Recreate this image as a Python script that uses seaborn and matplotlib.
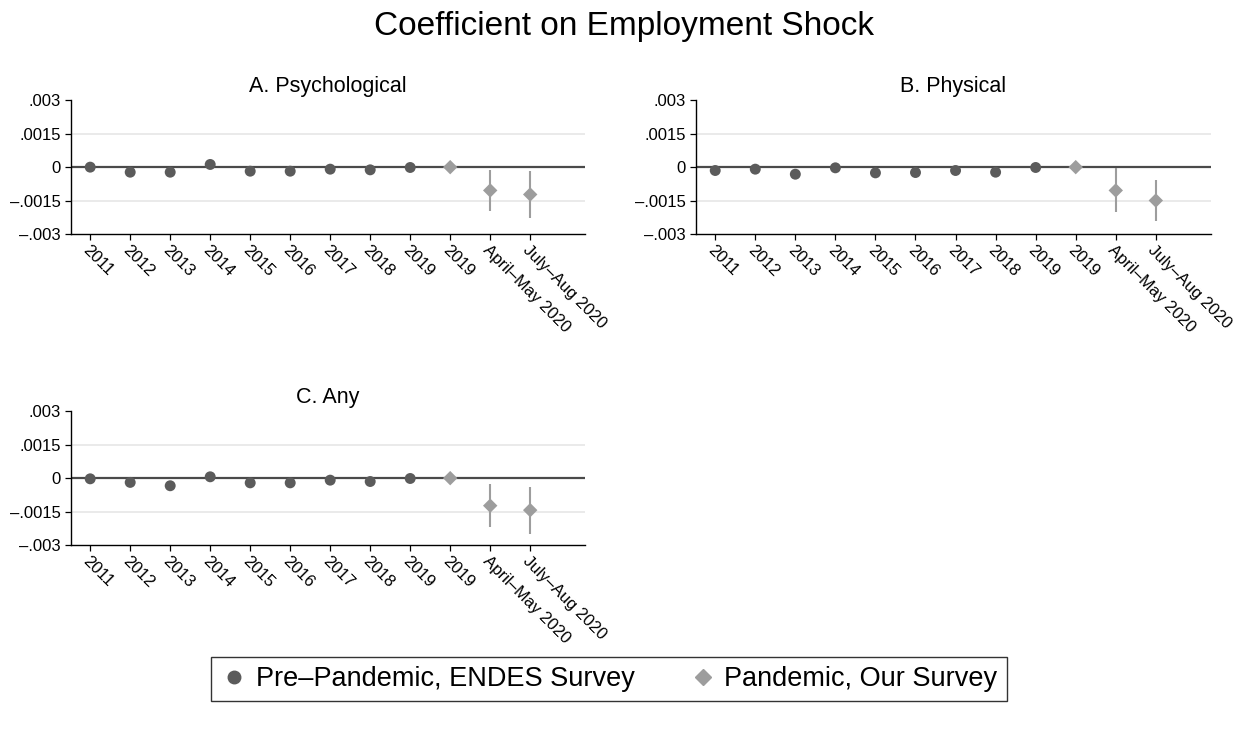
import numpy as np
import pandas as pd
import matplotlib
matplotlib.use("Agg")
import matplotlib.pyplot as plt
import seaborn as sns
from matplotlib.lines import Line2D

# ---------------- data ----------------
periods = ["2011", "2012", "2013", "2014", "2015", "2016", "2017", "2018", "2019",
           "2019", "April–May 2020", "July–Aug 2020"]
groups = ["Pre"] * 9 + ["Pandemic"] * 3

psych_coef = [0.0, -0.000225, -0.000225, 0.00012, -0.00018, -0.00018, -0.00009, -0.00012, -0.000015,
              0.0, -0.00104, -0.00122]
psych_lo = [np.nan] * 10 + [-0.00195, -0.00225]
psych_hi = [np.nan] * 10 + [-0.00012, -0.00018]

phys_coef = [-0.00015, -0.00009, -0.000315, -0.00003, -0.000255, -0.00024, -0.00015, -0.000225, -0.000015,
             0.0, -0.00104, -0.00149]
phys_lo = [np.nan] * 10 + [-0.00200, -0.00240]
phys_hi = [np.nan] * 10 + [-0.00003, -0.00057]

any_coef = [-0.00003, -0.00019, -0.00034, 0.00006, -0.00021, -0.00021, -0.00009, -0.00015, -0.000015,
            0.0, -0.00123, -0.00143]
any_lo = [np.nan] * 10 + [-0.00217, -0.00250]
any_hi = [np.nan] * 10 + [-0.00025, -0.00038]

panel_titles = ["A. Psychological", "B. Physical", "C. Any"]
ytick_vals = [0.003, 0.0015, 0.0, -0.0015, -0.003]
ytick_labels = [".003", ".0015", "0", "–.0015", "–.003"]
legend_labels = ["Pre–Pandemic, ENDES Survey", "Pandemic, Our Survey"]
main_title = "Coefficient on Employment Shock"

# ---------------- style ----------------
sns.set_theme(style="white")
plt.rcParams["font.family"] = ["Liberation Sans", "DejaVu Sans"]
plt.rcParams["text.color"] = "black"
plt.rcParams["xtick.color"] = "black"
plt.rcParams["ytick.color"] = "black"

DARK = "#5b5b5b"
LIGHT = "#9d9d9d"
palette = {"Pre": DARK, "Pandemic": LIGHT}
markers = {"Pre": "o", "Pandemic": "D"}
msizes = {"Pre": 62, "Pandemic": 54}

fig = plt.figure(figsize=(12.47, 7.30), dpi=100)

W, H = 1247.0, 730.0
def rect(l, r, t, b):
    return [l / W, 1 - b / H, (r - l) / W, (b - t) / H]

axes_rects = [rect(71, 585, 100, 234.3), rect(696, 1210.7, 100, 234.3), rect(71, 585, 411, 545.3)]
panels = [(psych_coef, psych_lo, psych_hi), (phys_coef, phys_lo, phys_hi), (any_coef, any_lo, any_hi)]

for (coef, lo, hi), title, r in zip(panels, panel_titles, axes_rects):
    ax = fig.add_axes(r)
    df = pd.DataFrame({"pos": np.arange(len(periods)), "coef": coef, "lo": lo, "hi": hi, "group": groups})
    for yv in (0.0015, -0.0015):
        ax.axhline(yv, color="#e8e8e8", lw=1.3, zorder=1)
    ax.axhline(0, color="#4a4a4a", lw=1.6, zorder=2)
    ci = df.dropna(subset=["lo"])
    ax.vlines(ci["pos"], ci["lo"], ci["hi"], color=LIGHT, lw=1.5, zorder=3)
    sns.scatterplot(data=df, x="pos", y="coef", hue="group", style="group", size="group",
                    palette=palette, markers=markers, sizes=msizes, linewidth=0,
                    legend=False, ax=ax, zorder=4)
    ax.set_xlim(-0.48, 12.37)
    ax.set_ylim(-0.003, 0.003)
    ax.set_xticks(df["pos"])
    ax.set_xticklabels(periods, rotation=-45, ha="left", va="top", rotation_mode="anchor", fontsize=12)
    ax.set_yticks(ytick_vals)
    ax.set_yticklabels(ytick_labels, fontsize=12)
    ax.set_xlabel("")
    ax.set_ylabel("")
    ax.tick_params(axis="both", direction="out", length=4.3, width=0.9, color="black", pad=3,
                   bottom=True, left=True)
    ax.tick_params(axis="x", pad=1.5)
    for s in ("top", "right"):
        ax.spines[s].set_visible(False)
    for s in ("left", "bottom"):
        ax.spines[s].set_color("black")
        ax.spines[s].set_linewidth(1.0)
    ax.set_title(title, fontsize=15.5, pad=6, color="black")

fig.text(0.5, 1 - 27 / H, main_title, ha="center", va="center", fontsize=24, color="black")

handles = [Line2D([], [], marker="o", color=DARK, linestyle="none", markersize=9),
           Line2D([], [], marker="D", color=LIGHT, linestyle="none", markersize=8.5)]
leg = fig.legend(handles, legend_labels, loc="center", bbox_to_anchor=(609 / W, 1 - 679 / H),
                 ncol=2, fontsize=19.5, frameon=True, fancybox=False, edgecolor="black",
                 handletextpad=0.3, columnspacing=2.0, borderpad=0.35, handlelength=1.0)
leg.get_frame().set_linewidth(1.0)

fig.savefig("out.png", dpi=100, facecolor="white")
